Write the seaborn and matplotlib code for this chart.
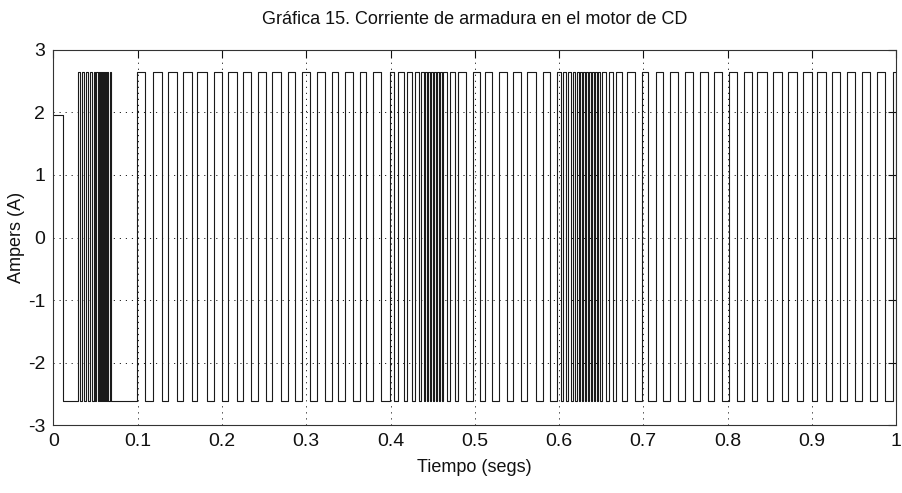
import numpy as np
import pandas as pd
import matplotlib
matplotlib.use("Agg")
import matplotlib.pyplot as plt
import seaborn as sns

# ---- armature current: switching instants (s) and current levels (A) ----
start_t = [0.0, 0.0116]
start_level = 1.96

burst1_on = [0.0291, 0.0338, 0.0386, 0.0433, 0.0480, 0.0510, 0.0540, 0.0563,
             0.0587, 0.0611, 0.0635, 0.0670]
burst1_off = [0.0315, 0.0362, 0.0409, 0.0457, 0.0498, 0.0528, 0.0552, 0.0575,
              0.0599, 0.0623, 0.0652, 0.0688]

run1_on = [0.0994, 0.1184, 0.1362, 0.1540, 0.1708, 0.1904, 0.2074, 0.2251,
           0.2429, 0.2596, 0.2785, 0.2951, 0.3122, 0.3300, 0.3458, 0.3636,
           0.3794]
run1_off = [0.1085, 0.1284, 0.1461, 0.1639, 0.1817, 0.1995, 0.2173, 0.2343,
            0.2517, 0.2699, 0.2865, 0.3043, 0.3221, 0.3378, 0.3556, 0.3715,
            0.3893]

burst2_on = [0.3992, 0.4087, 0.4193, 0.4288, 0.4359, 0.4407, 0.4442, 0.4478,
             0.4514, 0.4549, 0.4585, 0.4620, 0.4703, 0.4798]
burst2_off = [0.4039, 0.4158, 0.4253, 0.4336, 0.4395, 0.4431, 0.4466, 0.4502,
              0.4537, 0.4573, 0.4609, 0.4668, 0.4763, 0.4893]

run2_on = [0.4976, 0.5119, 0.5285, 0.5451, 0.5623, 0.5807]
run2_off = [0.5059, 0.5202, 0.5380, 0.5546, 0.5724, 0.5890]

burst3_on = [0.5973, 0.6044, 0.6103, 0.6163, 0.6210, 0.6246, 0.6281, 0.6317,
             0.6352, 0.6388, 0.6423, 0.6459, 0.6507, 0.6590, 0.6673, 0.6803]
burst3_off = [0.6020, 0.6079, 0.6139, 0.6186, 0.6234, 0.6269, 0.6305, 0.6340,
              0.6376, 0.6412, 0.6447, 0.6483, 0.6554, 0.6637, 0.6744, 0.6898]

run3_on = [0.6981, 0.7147, 0.7313, 0.7491, 0.7669, 0.7835, 0.8013, 0.8191,
           0.8351, 0.8535, 0.8713, 0.8891, 0.9057, 0.9235, 0.9413, 0.9591,
           0.9769, 0.9958]
run3_off = [0.7052, 0.7230, 0.7408, 0.7586, 0.7764, 0.7930, 0.8108, 0.8286,
            0.8464, 0.8642, 0.8820, 0.8998, 0.9164, 0.9330, 0.9508, 0.9686,
            0.9864, 1.0]

current_high = 2.64
current_low = -2.61

x_ticks = [0, 0.1, 0.2, 0.3, 0.4, 0.5, 0.6, 0.7, 0.8, 0.9, 1]
x_tick_labels = ["0", "0.1", "0.2", "0.3", "0.4", "0.5", "0.6", "0.7", "0.8", "0.9", "1"]
y_ticks = [-3, -2, -1, 0, 1, 2, 3]


def pulses(on, off, hi, lo):
    t, v = [], []
    for a, b in zip(on, off):
        t += [a, a, b, b]
        v += [lo, hi, hi, lo]
    return t, v


t_all = list(start_t) + [start_t[-1]]
i_all = [start_level, start_level, current_low]
for on, off in [(burst1_on, burst1_off), (run1_on, run1_off),
                (burst2_on, burst2_off), (run2_on, run2_off),
                (burst3_on, burst3_off), (run3_on, run3_off)]:
    t, v = pulses(on, off, current_high, current_low)
    t_all += t
    i_all += v

df = pd.DataFrame({"t": t_all, "i": i_all})

sns.set_theme(style="white")
plt.rcParams["font.family"] = ["Liberation Sans Narrow", "Liberation Sans", "DejaVu Sans"]
plt.rcParams["axes.unicode_minus"] = False

fig = plt.figure(figsize=(9.02, 4.93), dpi=100)
ax = fig.add_axes([0.0593, 0.1379, 0.9341, 0.7607])

sns.lineplot(data=df, x="t", y="i", estimator=None, sort=False,
             color="#1a1a1a", linewidth=0.8, ax=ax)

ax.set_xlim(0, 1)
ax.set_ylim(-3, 3)
ax.set_xticks(x_ticks)
ax.set_xticklabels(x_tick_labels)
ax.set_yticks(y_ticks)

ax.grid(True, color="#222222", linestyle=(0, (1.2, 5)), linewidth=0.7)
ax.tick_params(direction="in", length=5.5, width=0.8, top=True, right=True,
               labelsize=14, colors="#111111", pad=6)
for s in ax.spines.values():
    s.set_color("#333333")
    s.set_linewidth(0.8)

ax.set_title("Gráfica 15. Corriente de armadura en el motor de CD",
             fontsize=13, color="#111111", pad=19)
ax.set_xlabel("Tiempo (segs)", fontsize=13, color="#111111", labelpad=6)
ax.set_ylabel("Ampers (A)", fontsize=13, color="#111111", labelpad=2)

fig.savefig("out.png", dpi=100, facecolor="white")
